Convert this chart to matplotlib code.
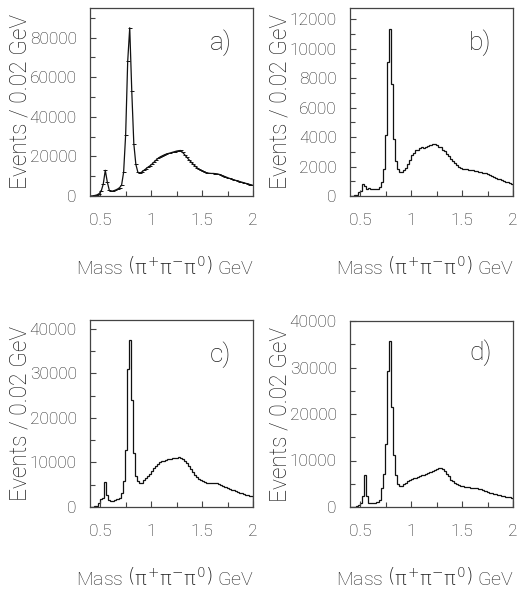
import numpy as np
import matplotlib
matplotlib.use("Agg")
import matplotlib.pyplot as plt
from matplotlib.ticker import FixedLocator, MultipleLocator, FuncFormatter

# ---------------- data ----------------
bin_lo, bin_hi, bin_w = 0.40, 2.00, 0.02
edges = np.round(np.arange(bin_lo, bin_hi + bin_w / 2, bin_w), 3)
centers = (edges[:-1] + edges[1:]) / 2

counts_a = [
    0, 100, 300, 600, 1200, 2500, 6000, 13000, 7000, 2800,
    2400, 2600, 3000, 3500, 4200, 5500, 12000, 31000, 68000, 85000,
    53000, 26500, 16000, 12000, 11500, 12200, 13000, 13800, 14600, 15300,
    16200, 17200, 18200, 19100, 19800, 20300, 20800, 21200, 21500, 21800,
    22100, 22400, 22700, 22900, 23000, 22000, 20800, 19600, 18400, 17300,
    16200, 15200, 14300, 13500, 12900, 12400, 12000, 11700, 11500, 11400,
    11400, 11300, 11200, 10900, 10500, 10100, 9700, 9300, 8900, 8500,
    8200, 7900, 7600, 7300, 7000, 6700, 6400, 6100, 5800, 5600,
]
counts_b = [
    0, 20, 50, 100, 250, 350, 800, 650, 450, 550,
    450, 480, 470, 500, 600, 950, 1800, 4150, 9100, 11300,
    7600, 3850, 2350, 1800, 1650, 1650, 1750, 1900, 2150, 2450,
    2750, 2950, 3100, 3150, 3250, 3300, 3250, 3350, 3400, 3450,
    3550, 3500, 3450, 3350, 3300, 3150, 3050, 2850, 2700, 2500,
    2400, 2250, 2100, 2000, 1900, 1850, 1800, 1820, 1780, 1760,
    1740, 1720, 1700, 1650, 1620, 1580, 1530, 1490, 1430, 1360,
    1300, 1250, 1180, 1120, 1060, 1010, 960, 920, 880, 840,
]
counts_c = [
    0, 50, 150, 300, 800, 1900, 2100, 5600, 2700, 1600,
    1300, 1350, 1500, 1800, 2100, 3200, 5800, 12900, 30900, 37600,
    24100, 12100, 7000, 5800, 5400, 5500, 6000, 6500, 7000, 7500,
    8000, 8700, 9300, 9700, 10000, 10300, 10400, 10500, 10700, 10800,
    10900, 11000, 11100, 11200, 11100, 10800, 10400, 9800, 9200, 8500,
    7900, 7200, 6700, 6300, 6000, 5800, 5600, 5500, 5400, 5400,
    5400, 5400, 5300, 5100, 4900, 4800, 4550, 4300, 4100, 3900,
    3750, 3550, 3400, 3250, 3100, 2950, 2800, 2650, 2500, 2400,
]
counts_d = [
    0, 30, 80, 200, 400, 850, 2300, 6800, 2300, 900,
    800, 800, 850, 1000, 1600, 4000, 7000, 13500, 29200, 35700,
    21600, 11200, 6900, 5000, 4600, 4600, 4900, 5200, 5500, 5800,
    6000, 6150, 6300, 6450, 6600, 6800, 6950, 7100, 7300, 7500,
    7700, 7950, 8150, 8300, 8350, 8100, 7700, 7200, 6600, 5900,
    5500, 5150, 4900, 4700, 4550, 4450, 4350, 4300, 4250, 4150,
    4100, 4050, 4000, 3950, 3800, 3600, 3350, 3200, 3050, 2950,
    2850, 2750, 2600, 2500, 2400, 2300, 2200, 2150, 2050, 2000,
]

panel_names = ["a)", "b)", "c)", "d)"]
y_limits = [95000, 12750, 42000, 40000]
y_major = [20000, 2000, 10000, 10000]
y_minor = [10000, 1000, 5000, 5000]
x_tick_vals = [0.5, 1.0, 1.5, 2.0]
x_tick_labels = ["0.5", "1", "1.5", "2"]
x_minor_vals = [0.75, 1.25, 1.75]
y_label = "Events / 0.02 GeV"
x_label = r"Mass $\left(\pi^{+}\pi^{-}\pi^{0}\right)$ GeV"

# ---------------- style ----------------
plt.rcParams["font.family"] = ["Roboto", "DejaVu Sans"]
plt.rcParams["font.weight"] = "light"
plt.rcParams["mathtext.fontset"] = "custom"
plt.rcParams["mathtext.rm"] = "DejaVu Sans"
plt.rcParams["mathtext.it"] = "DejaVu Sans"
plt.rcParams["mathtext.sf"] = "DejaVu Sans"
plt.rcParams["mathtext.bf"] = "DejaVu Sans:bold"

W, H = 518, 590
fig = plt.figure(figsize=(W / 100, H / 100), dpi=100)

# axes boxes in pixels: (left, top, right, bottom)
boxes = [(90, 8, 253, 196), (350, 8, 513, 196), (90, 320, 253, 507), (350, 321, 513, 507)]
label_pos = [(0.80, 0.815), (0.80, 0.815), (0.80, 0.813), (0.80, 0.83)]
ylab_x = [20, 280, 20, 280]
xlab_y = [267, 267, 578, 578]

all_counts = [counts_a, counts_b, counts_c, counts_d]
frame_col = "#444444"
line_col = "#111111"
text_col = "#222222"

for i, (box, counts) in enumerate(zip(boxes, all_counts)):
    l, t, r, b = box
    ax = fig.add_axes([l / W, 1 - b / H, (r - l) / W, (b - t) / H])
    if i == 0:
        ax.plot(centers, counts, color=line_col, lw=0.9, marker="_", ms=2.5, mew=0.7)
    else:
        ax.stairs(counts, edges, color=line_col, lw=0.9)
    ax.set_xlim(bin_lo, bin_hi)
    ax.set_ylim(0, y_limits[i])
    ax.xaxis.set_major_locator(FixedLocator(x_tick_vals))
    ax.xaxis.set_major_formatter(FuncFormatter(
        lambda v, p: x_tick_labels[x_tick_vals.index(round(v, 2))] if round(v, 2) in x_tick_vals else ""))
    ax.xaxis.set_minor_locator(FixedLocator(x_minor_vals))
    ax.yaxis.set_major_locator(MultipleLocator(y_major[i]))
    ax.yaxis.set_minor_locator(MultipleLocator(y_minor[i]))
    ax.yaxis.set_major_formatter(FuncFormatter(lambda v, p: f"{int(round(v))}"))
    ax.tick_params(which="both", direction="in", top=False, right=False,
                   colors=frame_col, labelcolor=text_col, labelsize=12.5, width=0.8)
    ax.tick_params(which="major", length=4.5)
    ax.tick_params(which="minor", length=3.5)
    ax.tick_params(axis="y", pad=9.5)
    ax.tick_params(axis="x", pad=12)
    for s in ax.spines.values():
        s.set_color(frame_col)
        s.set_linewidth(0.9)
    ax.text(label_pos[i][0], label_pos[i][1], panel_names[i], transform=ax.transAxes,
            ha="center", va="center", fontsize=19, color=text_col)
    fig.text(ylab_x[i] / W, 1 - ((t + b) / 2) / H, y_label, rotation=90,
             ha="center", va="center", fontsize=16.5, color=text_col)
    fig.text(((l + r) / 2 - 6) / W, 1 - xlab_y[i] / H, x_label,
             ha="center", va="center", fontsize=14, color=text_col)

fig.savefig("out.png", dpi=100)
